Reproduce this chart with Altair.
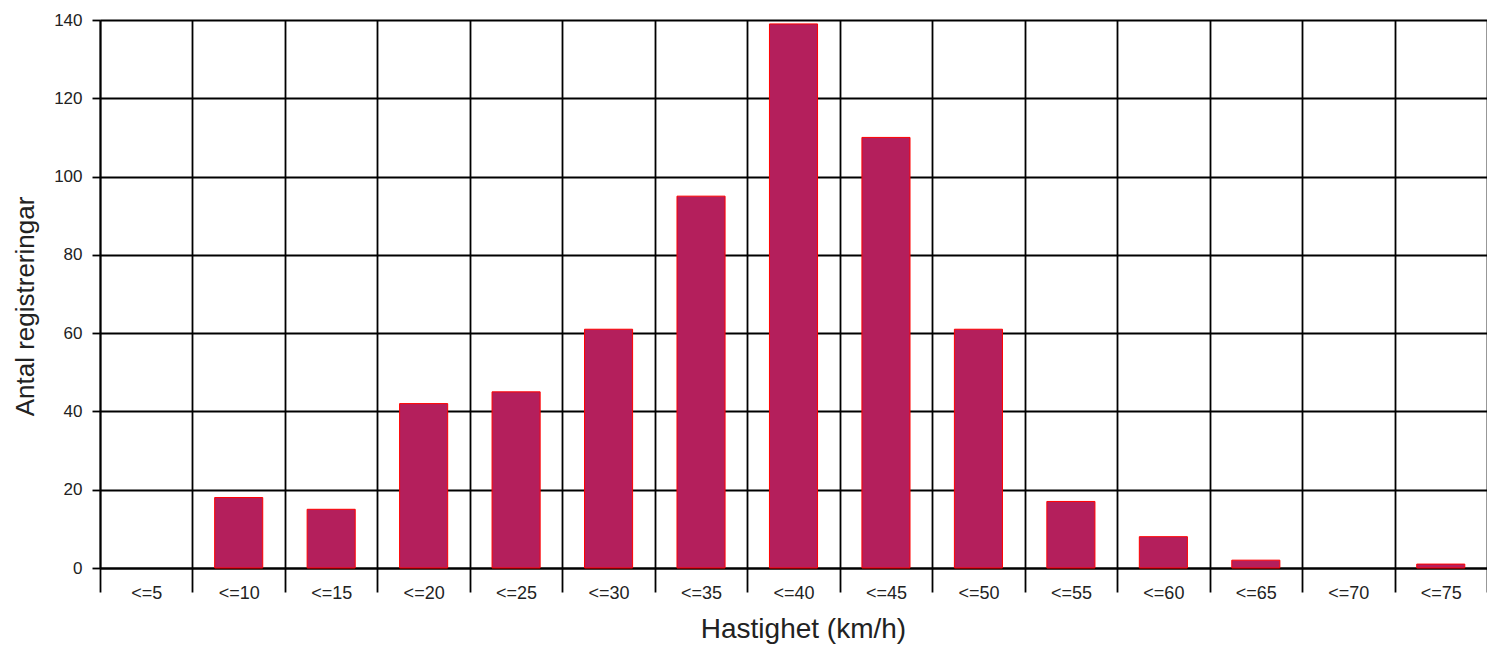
import altair as alt
import pandas as pd

categories = ["<=5", "<=10", "<=15", "<=20", "<=25", "<=30", "<=35", "<=40",
              "<=45", "<=50", "<=55", "<=60", "<=65", "<=70", "<=75"]
counts = [0, 18, 15, 42, 45, 61, 95, 139, 110, 61, 17, 8, 2, 0, 1]
y_ticks = [0, 20, 40, 60, 80, 100, 120, 140]

df = pd.DataFrame({"Hastighet": categories, "Antal": counts})

FONT = "Liberation Sans"
LINE_W = 1.8

chart = (
    alt.Chart(df)
    .transform_filter("datum.Antal > 0")
    .mark_bar(color="#B41F5C", stroke="#FF0000", strokeWidth=1,
              width=alt.RelativeBandSize(0.52))
    .encode(
        x=alt.X(
            "Hastighet:N",
            sort=categories,
            scale=alt.Scale(domain=categories, paddingInner=0, paddingOuter=0),
            axis=alt.Axis(
                title="Hastighet (km/h)",
                labelAngle=0,
                tickBand="extent",
                grid=True,
                gridColor="#000000",
                gridWidth=LINE_W,
                gridOpacity=1,
                tickColor="#000000",
                tickWidth=LINE_W,
                tickSize=24,
                labelPadding=-8,
                domainColor="#000000",
                domainWidth=LINE_W,
                labelFont=FONT,
                labelFontSize=18,
                labelColor="#222222",
                titleFont=FONT,
                titleFontSize=28,
                titleFontWeight="normal",
                titleColor="#222222",
                titleX=703,
                titleY=69,
                titleBaseline="alphabetic",
                titleAlign="center",
            ),
        ),
        y=alt.Y(
            "Antal:Q",
            scale=alt.Scale(domain=[0, 140], nice=False),
            axis=alt.Axis(
                values=y_ticks,
                title="Antal registreringar",
                grid=True,
                gridColor="#000000",
                gridWidth=LINE_W,
                gridOpacity=1,
                tickColor="#000000",
                tickWidth=LINE_W,
                tickSize=8,
                labelPadding=10,
                domainColor="#000000",
                domainWidth=LINE_W,
                labelFont=FONT,
                labelFontSize=17,
                labelColor="#222222",
                titleFont=FONT,
                titleFontSize=26,
                titleFontWeight="normal",
                titleColor="#222222",
                titleAngle=-90,
                titleX=-62,
                titleY=286,
                titleAlign="center",
                titleBaseline="bottom",
            ),
        ),
    )
    .properties(
        width=1387,
        height=548,
        padding={"left": 92, "top": 12, "right": 0, "bottom": 77},
        autosize=alt.AutoSizeParams(type="none"),
    )
    .configure_view(stroke=None)
)

chart.save("out.html", embed_options={"renderer": "svg", "actions": False})
